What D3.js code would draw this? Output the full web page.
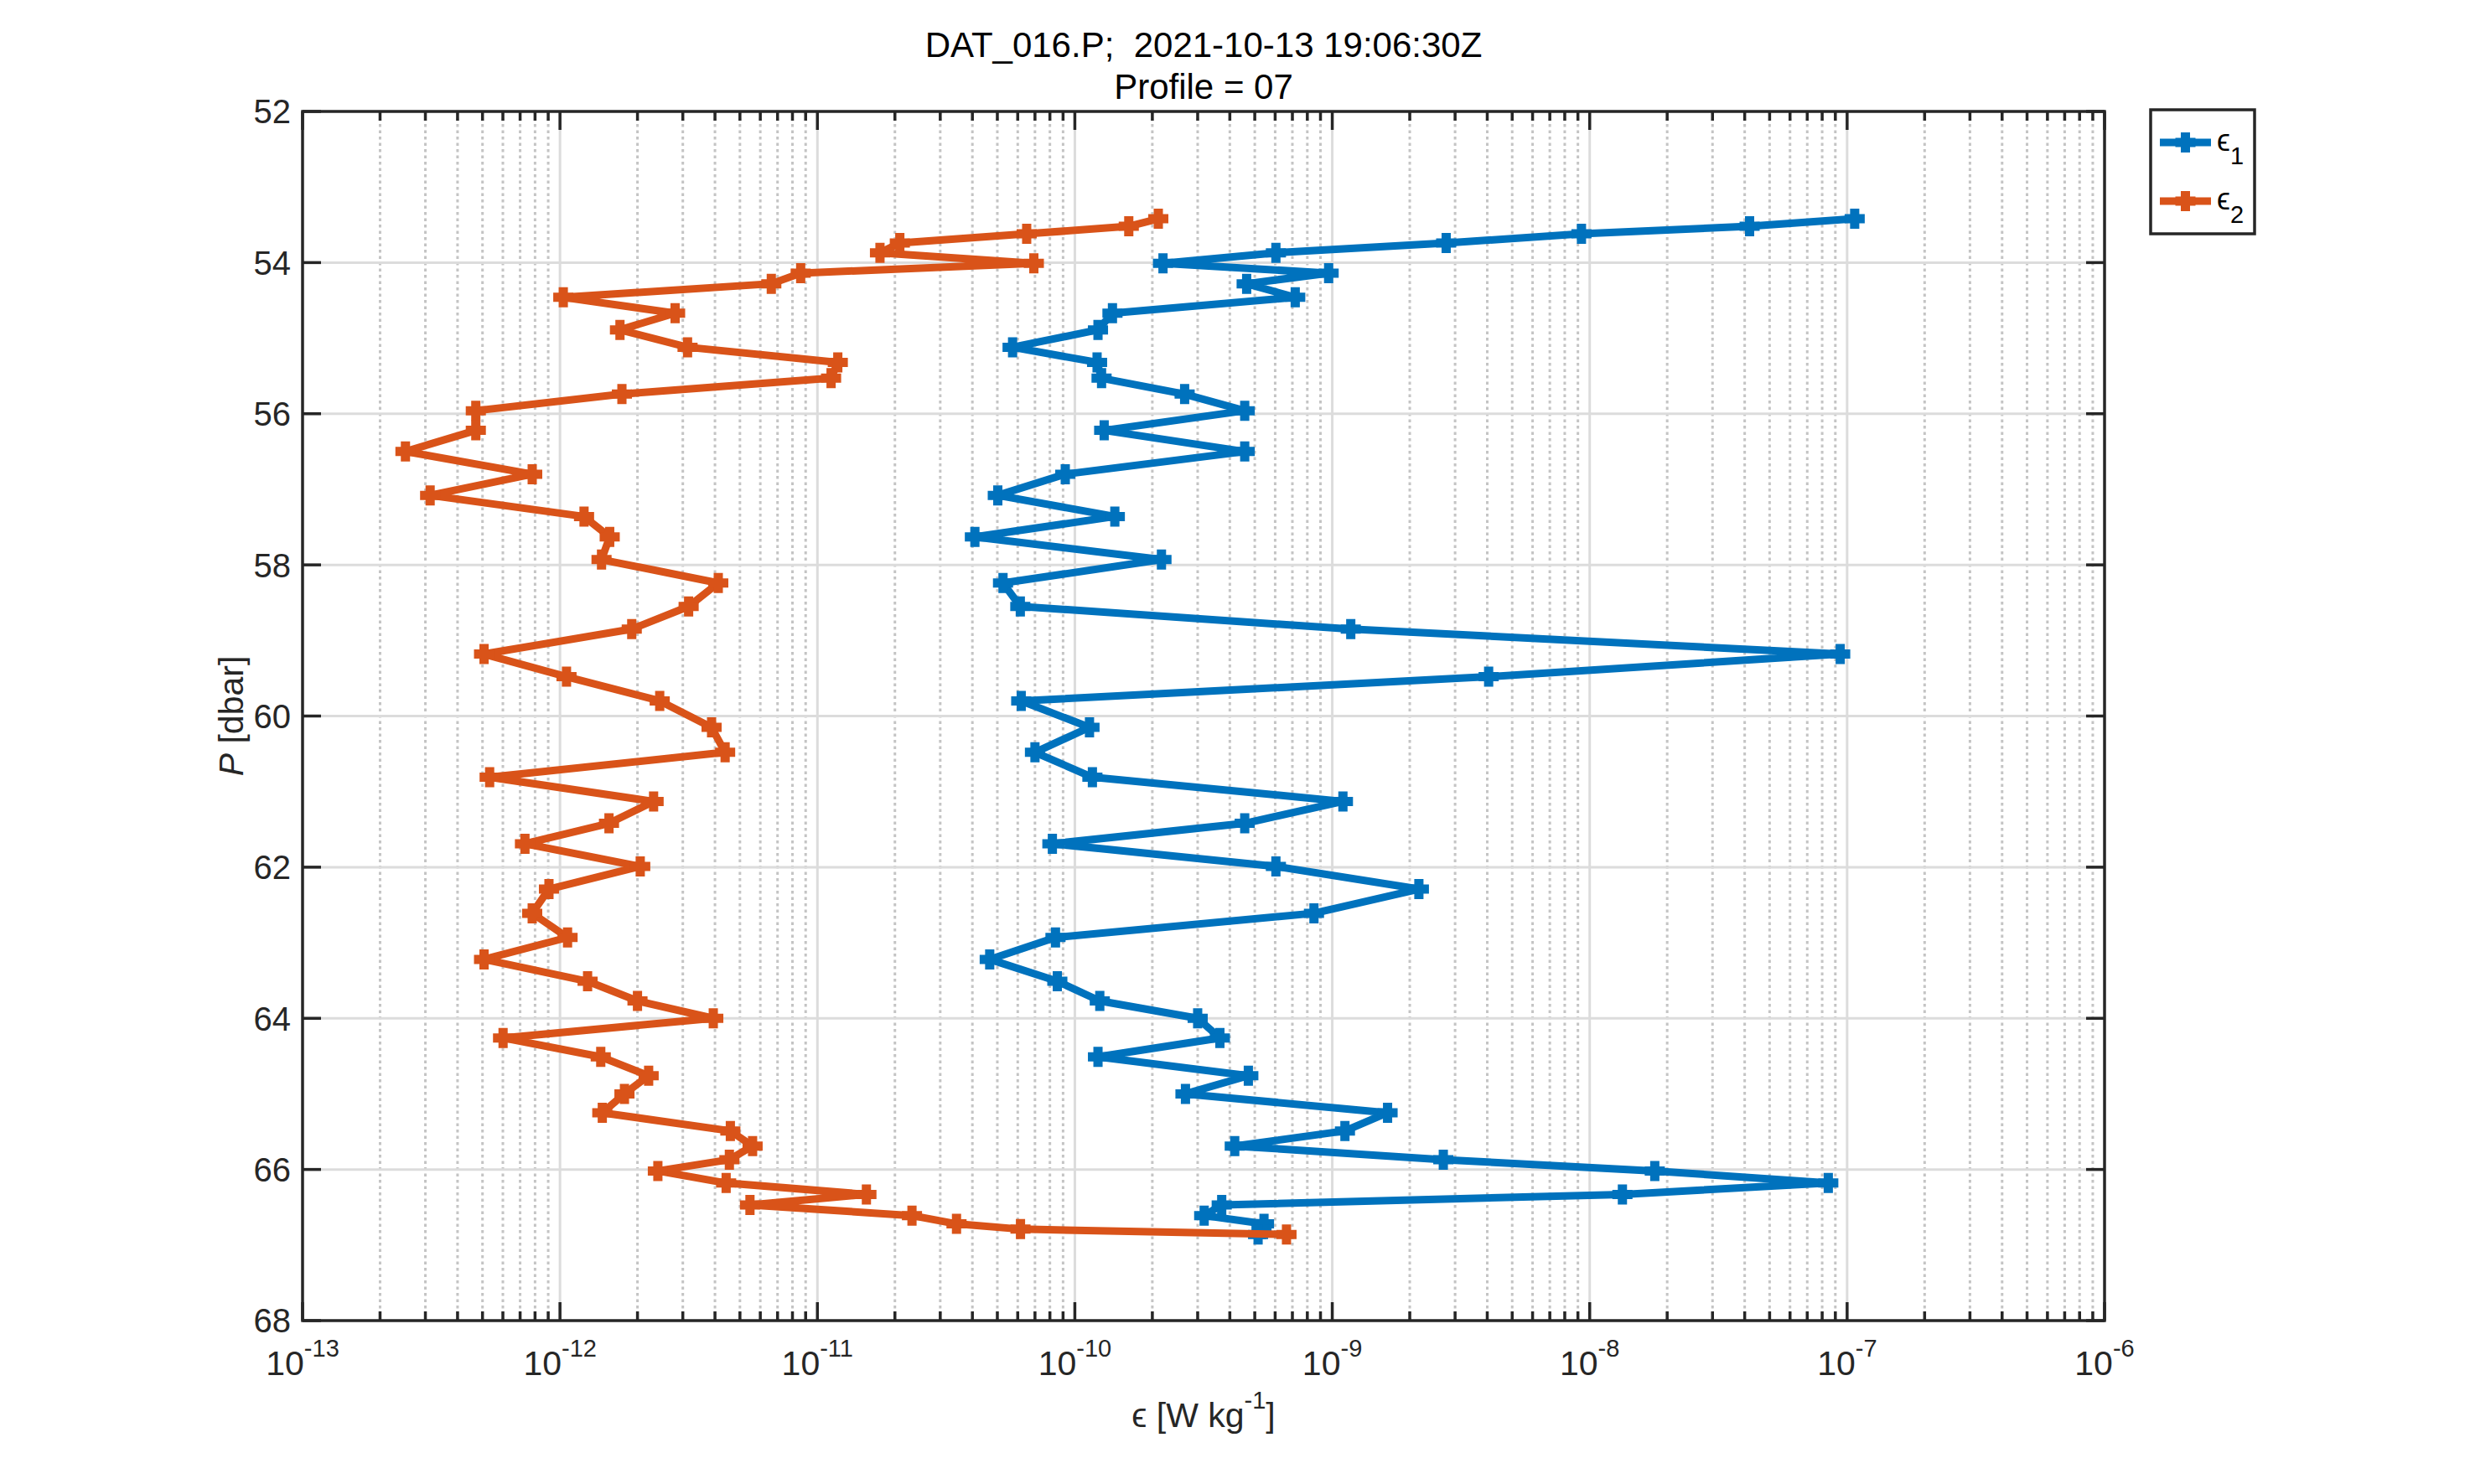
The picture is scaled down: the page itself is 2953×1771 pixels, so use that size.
<!DOCTYPE html>
<html>
<head>
<meta charset="utf-8">
<script src="https://cdn.jsdelivr.net/npm/d3@7"></script>
<style>
  html, body { margin: 0; padding: 0; background: #fff; }
  svg { display: block; }
  text { font-family: "Liberation Sans", Arial, Helvetica, sans-serif; fill: #262626; white-space: pre; }
</style>
</head>
<body>
<script>
// ---- data ----
const pressure = [53.42, 53.52, 53.62, 53.74, 53.87, 54.01, 54.14, 54.28, 54.46, 54.67,
  54.89, 55.12, 55.32, 55.53, 55.74, 55.96, 56.22, 56.50, 56.80, 57.08,
  57.36, 57.63, 57.93, 58.24, 58.55, 58.85, 59.18, 59.48, 59.80, 60.15,
  60.48, 60.81, 61.13, 61.42, 61.69, 61.99, 62.29, 62.61, 62.93, 63.22,
  63.51, 63.77, 64.00, 64.26, 64.51, 64.76, 65.00, 65.25, 65.49, 65.69,
  65.87, 66.02, 66.18, 66.33, 66.47, 66.61, 66.72, 66.79, 66.86];

const epsilon1 = [1.07e-7, 4.18e-8, 9.29e-9, 2.77e-9, 6.04e-10, 2.20e-10, 9.68e-10, 4.65e-10, 7.18e-10, 1.40e-10,
  1.23e-10, 5.73e-11, 1.22e-10, 1.27e-10, 2.67e-10, 4.57e-10, 1.30e-10, 4.57e-10, 9.18e-11, 5.02e-11,
  1.43e-10, 4.09e-11, 2.17e-10, 5.26e-11, 6.14e-11, 1.18e-9, 9.40e-8, 4.05e-9, 6.19e-11, 1.14e-10,
  7.00e-11, 1.17e-10, 1.10e-9, 4.57e-10, 8.18e-11, 6.04e-10, 2.17e-9, 8.49e-10, 8.41e-11, 4.67e-11,
  8.55e-11, 1.25e-10, 3.00e-10, 3.66e-10, 1.23e-10, 4.72e-10, 2.69e-10, 1.64e-9, 1.12e-9, 4.18e-10,
  2.70e-9, 1.79e-8, 8.45e-8, 1.34e-8, 3.72e-10, 3.18e-10, 5.43e-10, 5.31e-10, 5.15e-10];

const epsilon2 = [2.11e-10, 1.62e-10, 6.50e-11, 2.09e-11, 1.75e-11, 6.93e-11, 8.61e-12, 6.62e-12, 1.03e-12, 2.80e-12,
  1.71e-12, 3.13e-12, 1.20e-11, 1.13e-11, 1.74e-12, 4.71e-13, 4.71e-13, 2.51e-13, 7.80e-13, 3.13e-13,
  1.24e-12, 1.56e-12, 1.45e-12, 4.12e-12, 3.16e-12, 1.90e-12, 5.07e-13, 1.06e-12, 2.44e-12, 3.88e-12,
  4.38e-12, 5.33e-13, 2.31e-12, 1.55e-12, 7.31e-13, 2.05e-12, 9.06e-13, 7.80e-13, 1.07e-12, 5.07e-13,
  1.28e-12, 2.00e-12, 3.94e-12, 6.01e-13, 1.44e-12, 2.21e-12, 1.78e-12, 1.46e-12, 4.59e-12, 5.60e-12,
  4.55e-12, 2.40e-12, 4.42e-12, 1.55e-11, 5.47e-12, 2.33e-11, 3.47e-11, 6.15e-11, 6.64e-10];

const xTickExponents = [-13, -12, -11, -10, -9, -8, -7, -6];
const yTickValues = [52, 54, 56, 58, 60, 62, 64, 66, 68];
const seriesNames = ["1", "2"];
const seriesColors = ["#0072BD", "#D95319"];
const titleLines = ["DAT_016.P;  2021-10-13 19:06:30Z", "Profile = 07"];

// ---- layout ----
const W = 2953, H = 1771;
const L = 361, R = 2511, T = 133, B = 1576;
const axisColor = "#262626";

const svg = d3.select("body").append("svg").attr("width", W).attr("height", H);

const x = d3.scaleLog().domain([1e-13, 1e-6]).range([L, R]);
const y = d3.scaleLinear().domain([52, 68]).range([T, B]);

// ---- grid ----
const grid = svg.append("g");
const isMajor = v => Math.abs(Math.log10(v) - Math.round(Math.log10(v))) < 1e-9;
const allXTicks = x.ticks();
const majorX = allXTicks.filter(isMajor);
const minorX = allXTicks.filter(v => !isMajor(v));

grid.selectAll("line.minorx").data(minorX).join("line")
  .attr("x1", d => x(d)).attr("x2", d => x(d)).attr("y1", T).attr("y2", B)
  .attr("stroke", "#c4c4c4").attr("stroke-width", 3).attr("stroke-dasharray", "3.5,4");
grid.selectAll("line.majorx").data(majorX.filter(v => x(v) > L + 1 && x(v) < R - 1)).join("line")
  .attr("x1", d => x(d)).attr("x2", d => x(d)).attr("y1", T).attr("y2", B)
  .attr("stroke", "#dcdcdc").attr("stroke-width", 3);
grid.selectAll("line.majory").data(yTickValues.slice(1, -1)).join("line")
  .attr("x1", L).attr("x2", R).attr("y1", d => y(d)).attr("y2", d => y(d))
  .attr("stroke", "#dcdcdc").attr("stroke-width", 3);

// ---- data lines ----
const lineGen = d3.line().x(d => x(d[1])).y(d => y(d[0]));
const markerPath = "M-12,0H12M0,-12V12";
[epsilon1, epsilon2].forEach((vals, i) => {
  const pts = pressure.map((p, k) => [p, vals[k]]);
  const g = svg.append("g");
  g.append("path").datum(pts).attr("d", lineGen)
    .attr("fill", "none").attr("stroke", seriesColors[i]).attr("stroke-width", 9)
    .attr("stroke-linejoin", "round");
  g.selectAll("path.m").data(pts).join("path")
    .attr("d", markerPath)
    .attr("transform", d => `translate(${x(d[1])},${y(d[0])})`)
    .attr("stroke", seriesColors[i]).attr("stroke-width", 11).attr("fill", "none");
});

// ---- axes box and ticks ----
const ax = svg.append("g");
const majLen = 22, minLen = 11;
[[B, -1], [T, 1]].forEach(([yy, dir]) => {
  ax.selectAll(null).data(majorX).join("line")
    .attr("x1", d => x(d)).attr("x2", d => x(d)).attr("y1", yy).attr("y2", yy + dir * majLen)
    .attr("stroke", axisColor).attr("stroke-width", 3.5);
  ax.selectAll(null).data(minorX).join("line")
    .attr("x1", d => x(d)).attr("x2", d => x(d)).attr("y1", yy).attr("y2", yy + dir * minLen)
    .attr("stroke", axisColor).attr("stroke-width", 3.5);
});
[[L, 1], [R, -1]].forEach(([xx, dir]) => {
  ax.selectAll(null).data(yTickValues).join("line")
    .attr("x1", xx).attr("x2", xx + dir * majLen).attr("y1", d => y(d)).attr("y2", d => y(d))
    .attr("stroke", axisColor).attr("stroke-width", 3.5);
});
ax.append("rect").attr("x", L).attr("y", T).attr("width", R - L).attr("height", B - T)
  .attr("fill", "none").attr("stroke", axisColor).attr("stroke-width", 3.5);

// ---- tick labels ----
svg.append("g").selectAll("text").data(yTickValues).join("text")
  .attr("x", L - 14).attr("y", d => y(d)).attr("dy", "0.36em")
  .attr("text-anchor", "end").attr("font-size", 40).text(d => d);

const xl = svg.append("g").selectAll("text").data(xTickExponents).join("text")
  .attr("x", d => x(Math.pow(10, d))).attr("y", 1641)
  .attr("text-anchor", "middle").attr("font-size", 41);
xl.append("tspan").text("10");
xl.append("tspan").attr("font-size", 29).attr("dy", -22).text(d => "-" + Math.abs(d));

// ---- titles and labels ----
svg.append("g").selectAll("text").data(titleLines).join("text")
  .attr("x", (L + R) / 2).attr("y", (d, i) => 68 + i * 50)
  .attr("text-anchor", "middle").attr("font-size", 42).style("fill", "#000")
  .attr("xml:space", "preserve").text(d => d);

const xlab = svg.append("text").attr("x", (L + R) / 2).attr("y", 1703)
  .attr("text-anchor", "middle").attr("font-size", 41);
xlab.append("tspan").text("\u03F5 [W kg");
xlab.append("tspan").attr("font-size", 29).attr("dy", -22).text("-1");
xlab.append("tspan").attr("dy", 22).text("]");

const ylab = svg.append("text").attr("transform", `translate(290,${(T + B) / 2}) rotate(-90)`)
  .attr("text-anchor", "middle").attr("font-size", 41);
ylab.append("tspan").attr("font-style", "italic").text("P");
ylab.append("tspan").text(" [dbar]");

// ---- legend ----
const lg = svg.append("g");
lg.append("rect").attr("x", 2566).attr("y", 131).attr("width", 124).attr("height", 148)
  .attr("fill", "#fff").attr("stroke", axisColor).attr("stroke-width", 3.5);
seriesNames.forEach((name, i) => {
  const cy = 170 + i * 70;
  lg.append("line").attr("x1", 2577).attr("x2", 2638).attr("y1", cy).attr("y2", cy)
    .attr("stroke", seriesColors[i]).attr("stroke-width", 9);
  lg.append("path").attr("d", markerPath).attr("transform", `translate(2607.5,${cy})`)
    .attr("stroke", seriesColors[i]).attr("stroke-width", 11).attr("fill", "none");
  const t = lg.append("text").attr("x", 2645).attr("y", cy + 10).attr("font-size", 36).style("fill", "#000");
  t.append("tspan").text("\u03F5");
  t.append("tspan").attr("font-size", 29).attr("dy", 16).text(name);
});
</script>
</body>
</html>
